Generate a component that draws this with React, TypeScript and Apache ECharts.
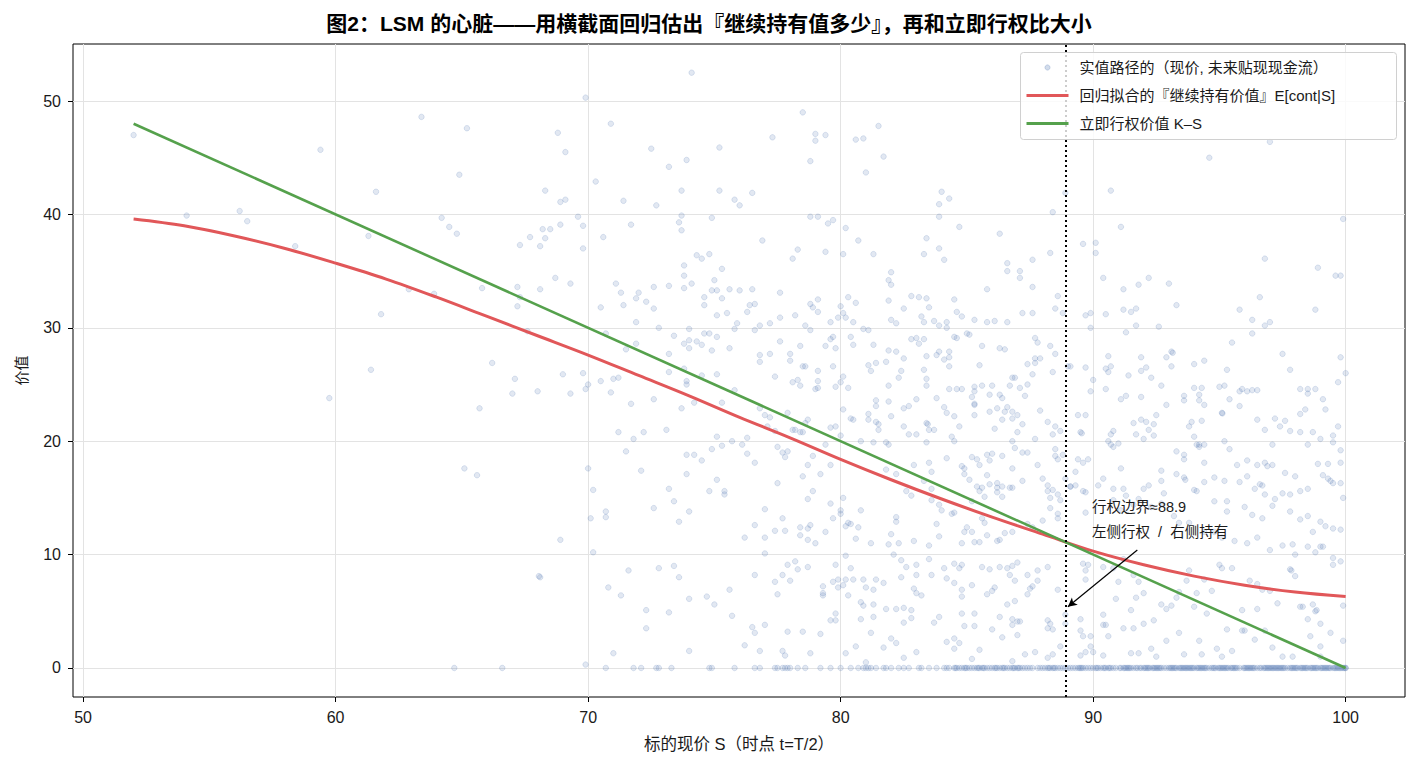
import React, { useEffect, useRef } from "react";
import * as echarts from "echarts";

const FONT = "'Liberation Sans', 'Noto Sans CJK SC', sans-serif";

const titleText = "图2：LSM 的心脏——用横截面回归估出『继续持有值多少』，再和立即行权比大小";
const xAxisName = "标的现价 S（时点 t=T/2）";
const yAxisName = "价值";
const legendNames = ["实值路径的（现价, 未来贴现现金流）", "回归拟合的『继续持有价值』E[cont|S]", "立即行权价值 K–S"];
const annotationText = "行权边界≈88.9\n左侧行权  /  右侧持有";

const xTicks = [50, 60, 70, 80, 90, 100];
const yTicks = [0, 10, 20, 30, 40, 50];

const boundaryS = 88.9;
const arrowFrom = [91.75, 10.4];
const arrowTo = [89.0, 5.4];

// regression fit E[cont|S]
const fitX = [52, 54, 56, 58, 60, 62, 64, 66, 68, 70, 72, 74, 76, 78, 80, 82, 84, 86, 88, 90, 92, 94, 96, 98, 100];
const fitY = [39.6, 39.0, 38.1, 37.0, 35.7, 34.3, 32.7, 31.0, 29.3, 27.6, 25.8, 24.0, 22.1, 20.3, 18.4, 16.6, 14.9, 13.3, 11.8, 10.3, 9.1, 8.1, 7.3, 6.7, 6.3];

// immediate exercise K - S
const exerciseX = [52, 100];
const exerciseY = [48, 0];

// in-the-money paths (S, discounted future cash flow)
const pathsLeft = [
  [52.0, 47.0], [54.1, 39.9], [56.2, 40.3], [56.5, 39.4], [58.4, 37.2], [59.4, 45.7], [59.75, 23.8],
];
const pathsA = [
  [61.6, 42.0], [63.4, 48.6], [65.2, 47.6], [64.9, 43.5], [64.2, 39.7], [64.5, 38.9], [64.8, 38.3], [61.3, 38.1],
  [62.9, 33.4], [63.9, 33.0], [61.8, 31.2], [65.8, 33.5], [61.4, 26.3], [66.2, 26.9], [65.7, 22.9], [65.1, 17.6],
  [65.6, 17.0], [68.1, 8.0], [68.05, 8.1], [68.9, 11.3], [67.1, 25.5], [67.0, 24.2], [68.0, 24.4], [67.2, 33.6],
  [67.3, 32.7], [67.2, 31.9], [67.3, 37.3], [67.7, 38.0], [68.1, 37.2], [68.2, 38.7], [68.5, 38.7], [68.3, 37.9],
  [68.9, 39.1], [68.3, 42.1], [68.9, 41.1], [69.1, 41.3], [68.8, 47.2], [69.1, 45.5], [69.9, 50.3], [70.9, 48.0],
  [70.3, 42.9], [69.6, 39.8], [69.8, 39.0], [69.8, 37.0], [70.6, 38.0], [71.4, 41.2], [71.7, 39.1], [72.5, 45.8],
  [68.1, 33.4], [68.7, 34.4], [69.3, 33.9], [67.6, 29.7], [69.0, 25.9], [69.3, 24.2], [69.8, 26.0], [70.0, 25.0],
  [69.9, 24.6], [70.5, 25.3], [70.9, 24.3], [71.0, 25.5], [71.2, 25.6], [71.7, 23.3], [70.5, 31.8], [71.1, 33.9],
  [71.3, 33.1], [72.0, 33.1], [71.9, 32.6], [72.3, 32.3], [71.4, 32.0], [71.9, 30.5], [71.9, 28.6], [71.5, 28.1],
  [70.7, 29.5], [71.2, 20.8], [71.8, 20.2], [72.2, 20.8], [71.5, 19.1], [72.1, 17.4], [70.0, 17.6], [70.2, 15.7],
  [70.7, 13.8], [70.7, 13.3], [70.1, 13.2], [70.2, 10.2], [71.6, 8.6], [70.8, 7.1], [71.3, 6.4], [72.3, 5.1],
  [72.3, 3.5], [71.0, 1.3], [69.9, 0.3],
];
const pathsB = [
  [74.1, 52.5], [73.2, 44.2], [73.9, 44.8], [75.2, 45.9], [73.7, 42.1], [75.2, 42.1], [72.7, 40.8], [75.8, 41.3],
  [76.0, 40.8], [76.5, 41.9], [73.7, 39.9], [73.6, 39.3], [73.7, 38.6], [74.9, 39.7], [77.3, 46.8], [78.5, 49.0],
  [79.0, 47.1], [79.0, 46.5], [79.4, 47.0], [78.8, 44.7], [78.8, 39.8], [79.1, 39.8], [79.5, 39.2], [79.7, 39.5],
  [76.9, 37.7], [78.3, 36.9], [78.1, 36.1], [79.4, 36.7], [80.6, 46.6], [80.9, 46.7], [81.5, 47.8], [81.7, 45.1],
  [81.0, 43.7], [80.2, 38.8], [80.7, 37.7], [80.1, 36.5], [81.3, 36.5], [74.3, 36.4], [74.5, 36.1], [74.8, 36.5],
  [73.8, 35.5], [73.8, 34.6], [75.3, 35.2], [75.0, 34.2], [72.6, 33.6], [73.2, 33.7], [73.8, 33.5], [74.1, 33.9],
  [74.9, 33.3], [75.1, 33.3], [75.6, 33.4], [76.0, 33.3], [76.5, 33.4], [72.6, 31.7], [74.6, 32.7], [74.6, 32.0],
  [75.3, 32.6], [75.1, 31.1], [75.5, 31.3], [76.4, 32.0], [76.6, 32.1], [76.3, 31.4], [77.6, 33.1], [77.6, 30.9],
  [77.2, 30.4], [78.2, 31.1], [78.8, 32.1], [78.9, 31.8], [79.1, 32.5], [79.1, 31.4], [78.6, 30.2], [78.8, 29.8],
  [75.9, 30.4], [75.8, 29.9], [76.8, 30.2], [76.6, 29.8], [72.8, 30.0], [74.0, 29.9], [73.4, 29.3], [74.6, 29.5],
  [74.8, 29.5], [75.1, 29.2], [73.8, 28.6], [74.0, 28.9], [74.3, 28.8], [74.5, 28.5], [74.0, 28.2], [74.9, 28.0],
  [75.6, 28.2], [73.2, 27.7], [73.2, 26.1], [73.8, 26.4], [73.9, 25.3], [73.9, 25.0], [74.5, 25.8], [75.1, 25.9],
  [75.8, 24.5], [73.7, 22.9], [72.6, 23.7], [74.2, 23.4], [75.3, 23.4], [76.8, 27.6], [76.8, 27.0], [77.2, 27.7],
  [77.6, 28.8], [77.4, 25.7], [78.0, 27.7], [78.0, 27.1], [78.4, 28.4], [78.5, 26.6], [78.6, 26.6], [79.1, 26.2],
  [78.1, 25.2], [78.3, 25.4], [78.4, 24.9], [79.1, 25.3], [79.1, 24.7], [79.0, 24.6], [79.4, 28.4], [79.6, 29.0],
  [79.7, 29.2], [79.8, 28.2], [79.6, 30.5], [80.0, 31.9], [80.1, 31.3], [79.9, 30.9], [80.2, 30.9], [80.5, 30.5],
  [80.3, 32.7], [80.6, 32.2], [79.7, 26.6], [79.8, 24.8], [80.0, 25.2], [80.1, 25.7], [80.3, 24.7], [80.4, 29.2],
  [80.5, 28.5], [80.9, 29.9], [81.1, 29.8], [81.3, 28.5], [81.1, 26.7], [81.2, 26.2], [81.4, 26.9], [81.8, 27.0],
  [81.9, 28.0], [81.9, 24.9], [81.4, 23.6], [81.4, 23.1], [80.1, 22.8], [80.4, 22.0], [80.5, 21.9], [81.1, 22.4],
  [81.1, 21.9], [81.4, 21.7], [81.5, 21.5], [81.5, 21.0], [81.3, 19.9], [81.8, 19.9], [81.9, 19.7], [80.8, 20.0],
  [79.8, 21.3], [79.6, 21.2], [80.0, 20.5], [79.4, 19.7], [79.6, 17.9], [79.2, 17.1], [78.9, 18.7], [78.6, 21.6],
  [78.7, 21.9], [78.5, 20.8], [78.4, 20.8], [78.2, 21.0], [78.1, 21.0], [77.9, 22.5], [77.4, 20.9], [77.1, 21.3],
  [77.0, 22.3], [76.8, 22.9], [77.2, 22.1], [77.5, 19.5], [77.7, 19.0], [77.8, 18.6], [77.9, 19.1], [78.7, 17.9],
  [78.5, 16.9], [78.7, 14.9], [78.9, 15.6], [77.5, 16.3], [77.0, 14.0], [77.7, 13.2], [77.4, 12.1], [77.8, 12.1],
  [78.4, 12.4], [78.4, 11.7], [78.7, 12.3], [78.8, 12.6], [78.7, 11.3], [79.0, 11.0], [79.4, 12.0], [79.6, 14.5],
  [79.7, 13.2], [80.0, 13.9], [80.0, 13.6], [80.1, 15.0], [80.2, 12.5], [80.3, 12.8], [80.4, 12.7], [80.7, 12.4],
  [80.6, 11.4], [80.8, 13.9], [81.2, 11.0], [81.9, 10.9], [76.2, 11.5], [76.6, 12.6], [77.0, 11.5], [77.0, 10.1],
  [76.3, 20.3], [76.1, 19.7], [76.3, 18.9], [76.6, 18.1], [75.7, 20.0], [75.3, 19.6], [75.1, 20.4], [74.9, 19.3],
  [74.5, 18.3], [74.2, 18.8], [73.9, 18.8], [73.9, 17.1], [75.1, 16.6], [74.8, 15.6], [75.4, 15.6], [75.4, 15.3],
  [73.2, 15.8], [73.4, 14.7], [72.6, 14.1], [74.0, 13.8], [73.6, 12.9], [73.1, 21.0], [72.8, 8.8], [73.4, 9.0],
  [73.6, 8.0], [73.2, 4.9], [74.0, 6.1], [74.7, 6.3], [75.0, 5.6], [75.6, 6.9], [75.7, 4.6], [74.0, 1.5],
  [76.2, 2.0], [76.5, 3.6], [76.6, 3.1], [77.0, 3.8], [76.6, 8.2], [76.8, 1.5], [77.4, 7.6], [77.5, 6.5],
  [77.7, 8.2], [77.9, 9.1], [78.2, 9.4], [78.3, 8.7], [78.7, 8.9], [78.0, 7.7], [77.7, 1.5], [77.8, 1.1],
  [77.9, 3.2], [78.5, 3.2], [78.8, 1.3], [79.2, 3.0], [79.3, 7.2], [79.3, 6.6], [79.3, 6.4], [79.6, 4.2],
  [79.7, 7.6], [79.8, 9.1], [79.8, 4.2], [79.8, 4.8], [79.9, 7.1], [79.9, 7.8], [80.1, 7.3], [80.2, 7.8],
  [80.2, 9.9], [80.4, 8.8], [80.3, 6.4], [80.5, 7.8], [80.2, 1.3], [80.6, 1.9], [80.8, 4.3], [80.8, 5.8],
  [80.9, 5.5], [80.9, 7.8], [81.0, 7.1], [81.3, 6.9], [81.3, 4.5], [81.2, 3.1], [81.3, 5.6], [81.4, 7.8],
  [81.7, 7.5], [81.8, 5.2], [81.7, 1.8], [81.0, 0.5],
];
const pathsC = [
  [84.0, 42.0], [84.3, 41.4], [83.9, 40.9], [83.9, 39.8], [84.7, 38.9], [83.4, 37.9], [83.9, 37.0], [84.1, 36.0],
  [83.3, 36.5], [86.3, 38.3], [88.4, 40.2], [88.9, 41.9], [90.7, 42.1], [89.6, 37.4], [90.1, 37.5],
  [90.1, 36.6], [88.3, 36.6], [87.6, 36.0], [86.6, 35.7], [86.6, 35.0], [87.1, 35.0], [87.1, 34.4], [87.6, 33.6],
  [90.4, 34.4], [82.0, 34.9], [81.9, 34.2], [82.0, 33.8], [85.8, 33.4], [82.8, 32.8], [83.1, 32.7], [83.4, 32.6],
  [84.5, 32.5], [83.5, 31.8], [82.5, 31.7], [81.9, 32.4], [84.6, 31.4], [84.8, 31.0], [85.3, 30.7], [85.8, 30.5],
  [86.1, 30.6], [86.6, 30.5], [87.2, 31.3], [87.6, 31.3], [88.5, 31.7], [88.8, 31.3], [88.6, 32.8], [89.7, 31.1],
  [89.9, 31.3], [89.9, 30.0], [90.5, 31.2], [82.0, 30.7], [82.2, 30.4], [83.2, 31.0], [83.3, 30.5],
  [83.7, 30.6], [83.9, 30.2], [84.2, 30.5], [84.2, 30.0], [82.2, 27.9], [82.8, 29.0], [83.0, 29.1],
  [83.1, 28.6], [83.3, 29.0], [82.5, 27.3], [82.3, 25.6], [82.4, 26.2], [83.4, 27.5], [83.3, 26.3],
  [83.4, 25.5], [83.4, 24.9], [83.8, 27.6], [83.9, 27.9], [84.1, 27.2], [84.3, 27.4], [84.3, 27.9], [84.3, 26.6],
  [84.5, 29.2], [84.6, 29.1], [85.0, 29.5], [85.1, 29.4], [85.6, 28.4], [85.5, 26.7], [86.3, 28.2], [86.5, 28.1],
  [87.7, 29.1], [87.8, 28.7], [87.7, 27.3], [87.9, 27.3], [87.7, 26.9], [87.4, 26.8], [87.6, 25.9], [88.3, 28.4],
  [88.5, 27.7], [88.4, 26.1], [89.0, 26.6], [89.1, 26.6], [89.7, 26.5], [90.5, 26.4], [90.6, 26.1], [90.7, 26.6],
  [90.6, 27.5], [90.0, 25.4], [89.9, 24.4], [90.5, 24.6], [84.3, 24.6], [84.6, 24.6], [84.8, 24.6],
  [85.3, 24.8], [85.3, 24.4], [85.2, 23.9], [85.3, 23.3], [85.6, 24.9], [86.0, 24.9], [86.3, 24.1], [86.4, 23.8],
  [85.9, 24.1], [86.7, 24.9], [86.8, 25.6], [86.9, 25.6], [87.1, 24.7], [87.4, 25.0], [87.3, 24.0], [81.9, 23.5],
  [82.5, 22.9], [82.7, 23.1], [83.0, 23.7], [82.0, 22.2], [82.5, 21.3], [82.7, 20.6], [83.0, 20.6], [83.4, 21.6],
  [83.45, 21.5], [83.5, 21.0], [83.7, 21.0], [83.4, 19.9], [83.8, 23.8], [84.1, 23.0], [84.2, 22.5], [84.5, 22.2],
  [84.7, 21.3], [84.4, 20.4], [84.5, 20.0], [85.3, 22.3], [85.3, 23.2], [85.9, 22.6], [86.2, 22.9], [86.5, 22.6],
  [86.6, 23.0], [86.8, 22.6], [87.0, 22.3], [86.4, 21.9], [86.8, 22.0], [86.1, 21.1], [87.2, 21.5], [87.9, 22.7],
  [88.2, 21.7], [88.5, 21.3], [88.7, 20.9], [88.4, 20.6], [87.7, 20.2], [87.0, 20.8], [86.8, 20.0], [86.9, 19.4],
  [87.2, 19.0], [87.4, 19.0], [89.4, 22.3], [89.7, 22.3], [89.5, 20.8], [89.55, 20.7], [90.6, 20.0], [90.7, 20.6],
  [90.8, 20.9], [90.7, 19.7], [90.8, 19.5], [91.0, 19.8], [88.5, 19.3], [88.5, 18.7], [88.6, 18.4], [88.8, 18.8],
  [89.4, 18.4], [89.6, 18.1], [89.8, 18.4], [85.2, 18.6], [85.4, 18.4], [85.5, 17.9], [85.8, 18.8], [86.0, 18.9],
  [85.9, 18.3], [85.8, 17.0], [86.4, 18.7], [84.8, 17.8], [84.9, 17.6], [84.2, 18.5], [83.5, 18.1], [82.9, 17.9],
  [82.2, 17.1], [81.8, 17.5], [82.6, 15.6], [82.8, 15.2], [83.3, 16.5], [83.6, 17.3], [83.6, 15.8], [83.6, 14.8],
  [83.9, 14.4], [84.0, 13.9], [83.8, 12.7], [84.5, 13.7], [84.9, 17.1], [85.1, 16.6], [85.2, 14.7], [85.4, 16.0],
  [85.5, 15.6], [85.6, 15.9], [85.7, 15.1], [85.7, 12.8], [85.6, 13.2], [85.9, 16.2], [86.2, 16.3], [86.2, 15.9],
  [86.4, 16.0], [86.4, 15.1], [86.7, 15.9], [86.8, 15.9], [86.8, 17.6], [86.2, 15.5], [87.2, 16.5], [87.8, 17.9],
  [88.0, 16.7], [88.2, 16.1], [88.2, 15.6], [88.3, 15.0], [88.4, 15.7], [88.6, 15.3], [88.7, 14.8], [88.9, 16.7],
  [89.1, 16.0], [89.3, 16.1], [89.6, 15.6], [89.7, 15.5], [88.3, 14.1], [88.6, 13.6], [88.6, 13.2], [88.0, 13.0],
  [87.6, 12.4], [87.4, 12.7], [86.8, 12.0], [86.5, 11.9], [86.3, 11.3], [86.2, 11.2], [85.8, 11.7], [85.5, 11.1],
  [85.3, 11.1], [85.2, 12.0], [85.0, 12.4], [84.9, 12.0], [84.8, 11.0], [84.4, 13.6], [83.9, 11.6], [83.5, 10.8],
  [82.9, 11.2], [82.3, 11.0], [82.0, 11.8], [82.1, 10.0], [82.2, 13.3], [82.2, 12.9], [82.4, 9.5], [82.6, 8.9],
  [83.0, 9.1], [83.0, 8.2], [82.4, 8.0], [82.9, 7.0], [83.0, 6.6], [83.2, 6.4], [83.5, 9.6],
  [83.6, 8.2], [84.1, 8.8], [84.2, 7.9], [84.5, 9.2], [84.7, 8.8], [84.8, 9.1], [84.5, 7.5], [84.8, 6.9],
  [84.8, 6.3], [85.2, 7.3], [85.6, 8.9], [85.9, 8.7], [86.1, 7.1], [86.0, 6.8], [85.8, 6.5], [86.3, 8.9],
  [86.6, 8.8], [86.8, 9.0], [87.0, 9.3], [86.7, 8.2], [86.9, 7.7], [86.6, 5.6], [86.9, 5.9], [87.4, 8.2],
  [87.4, 6.5], [87.5, 7.0], [87.6, 7.2], [87.8, 8.6], [87.8, 7.7], [88.2, 8.9], [88.6, 6.9], [88.9, 4.7],
  [88.9, 3.9], [88.2, 4.2], [88.3, 3.9], [88.4, 3.4], [88.2, 3.5], [88.7, 1.9], [88.4, 1.2], [88.2, 0.9],
  [82.2, 5.2], [82.5, 5.3], [82.8, 5.1], [82.8, 4.4], [82.5, 4.0], [82.0, 2.6], [82.2, 2.2], [82.5, 0.9],
  [83.0, 1.4], [83.7, 4.0], [83.9, 4.5], [84.2, 2.3], [84.5, 2.6], [84.7, 2.2], [84.5, 1.7], [84.8, 4.8],
  [84.9, 3.7], [85.3, 4.8], [85.3, 3.7], [85.2, 0.8], [85.5, 1.6], [86.0, 3.4], [86.4, 2.7], [86.3, 4.5],
  [86.8, 4.3], [86.8, 3.8], [87.0, 4.1], [87.1, 4.1], [86.8, 0.6], [87.3, 1.2], [87.7, 1.4], [87.0, 2.9],
  [89.5, 4.3], [89.5, 3.3], [89.6, 2.8], [89.9, 2.8], [90.4, 4.7], [90.4, 3.8], [90.5, 3.8], [90.6, 2.8],
  [90.9, 6.1], [91.0, 7.6], [89.7, 1.4], [89.9, 1.9], [90.0, 1.4], [89.5, 1.1], [90.4, 1.1], [89.6, 9.2],
  [89.7, 8.6], [89.8, 9.1], [89.7, 7.8], [90.4, 8.9], [90.8, 8.8], [89.1, 16.0], [89.3, 17.3], [90.2, 16.1],
  [90.4, 16.7], [90.8, 15.8], [91.2, 15.8], [90.8, 14.8], [89.7, 13.7], [91.1, 13.9], [91.3, 15.2],
];
const pathsD = [
  [97.0, 46.4], [94.6, 45.0], [99.9, 39.6], [91.1, 38.9], [96.8, 36.1], [98.9, 35.3], [99.6, 34.6], [99.8, 34.6],
  [92.2, 34.4], [91.8, 33.8], [93.0, 33.9], [91.2, 33.4], [93.3, 32.0], [96.6, 32.7], [95.8, 31.6], [98.8, 31.6],
  [96.3, 30.7], [96.8, 30.2], [97.0, 30.5], [91.2, 31.6], [91.5, 31.4], [91.7, 31.7], [91.7, 30.2], [92.6, 30.1],
  [91.3, 29.6], [96.3, 29.5], [95.5, 28.7], [97.5, 27.7], [93.1, 27.9], [93.15, 27.8], [92.9, 27.4], [91.9, 27.4],
  [92.1, 26.5], [91.9, 26.2], [93.1, 26.6], [94.4, 27.1], [94.0, 26.8], [95.3, 26.3], [97.8, 26.3], [99.8, 27.4],
  [100.0, 26.0], [91.4, 25.8], [92.3, 25.6], [92.7, 24.9], [94.0, 24.7], [94.3, 24.7], [95.0, 24.8], [95.2, 24.9],
  [95.8, 24.4], [95.9, 24.6], [96.1, 24.4], [96.3, 24.5], [96.5, 24.5], [95.4, 23.7], [95.8, 23.1], [91.3, 24.0],
  [91.1, 23.7], [91.9, 23.9], [92.5, 22.3], [93.6, 24.0], [93.6, 23.6], [94.2, 23.6], [94.2, 24.1], [94.4, 23.2],
  [92.9, 23.2], [95.1, 22.5], [95.12, 22.45], [98.2, 24.6], [98.5, 24.6], [98.5, 24.2], [98.8, 24.6], [99.1, 23.7],
  [99.2, 22.8], [99.7, 25.2], [98.4, 22.8], [98.2, 22.4], [91.6, 21.6], [91.9, 21.9], [92.1, 21.7], [92.2, 21.0],
  [92.4, 21.5], [92.4, 20.5], [91.7, 20.6], [92.0, 20.2], [93.9, 21.7], [93.8, 21.3], [94.3, 21.8], [94.0, 20.4],
  [94.1, 19.7], [94.2, 19.7], [94.4, 19.7], [94.2, 19.5], [95.2, 20.0], [95.4, 19.3], [96.5, 21.9], [96.8, 21.0],
  [97.2, 22.0], [97.4, 21.3], [97.6, 21.8], [97.8, 20.9], [97.1, 19.7], [98.2, 20.8], [98.5, 19.7], [98.7, 20.8],
  [99.0, 20.2], [99.5, 20.5], [99.5, 19.9], [99.7, 21.3], [99.8, 19.2], [93.3, 19.1], [93.6, 18.8], [93.6, 18.4],
  [94.4, 18.1], [95.7, 17.9], [96.1, 18.3], [96.5, 17.9], [96.8, 18.1], [96.9, 17.8], [97.1, 17.9], [97.6, 17.2],
  [98.0, 16.9], [98.9, 18.0], [99.3, 18.0], [99.8, 18.1], [99.1, 17.0], [99.3, 16.7], [91.1, 17.6], [92.7, 17.4],
  [93.3, 17.1], [93.6, 16.8], [94.1, 15.6], [94.4, 16.4], [94.8, 16.8], [95.2, 16.5], [95.8, 16.4], [96.1, 16.9],
  [96.4, 15.8], [96.6, 16.2], [96.7, 16.1], [96.8, 15.3], [97.2, 14.9], [97.1, 14.3], [97.5, 15.4], [97.8, 15.3],
  [98.2, 15.6], [98.5, 15.8], [99.4, 16.5], [99.5, 16.3], [99.8, 16.3], [99.9, 15.0], [92.0, 15.8], [92.2, 16.1],
  [92.7, 16.5], [92.8, 15.4], [93.65, 16.6], [94.0, 15.7], [94.8, 14.7], [95.3, 14.7], [95.3, 13.8], [96.0, 14.2],
  [96.3, 13.5], [96.7, 13.2], [97.8, 13.8], [98.2, 13.1], [98.5, 13.4], [99.0, 12.9], [99.2, 12.5], [99.5, 12.3],
  [99.8, 12.2], [99.0, 10.7], [99.1, 10.7], [99.5, 9.7], [99.5, 9.1], [99.8, 9.4], [98.7, 12.0], [91.8, 14.9],
  [91.6, 14.4], [92.3, 14.2], [92.7, 14.5], [93.2, 13.4], [93.4, 12.8], [93.8, 12.8], [94.4, 12.0], [94.8, 12.0],
  [95.1, 11.5], [95.6, 11.2], [96.1, 11.0], [96.5, 11.5], [97.0, 10.4], [97.5, 10.8], [97.9, 10.9], [98.0, 10.0],
  [98.5, 10.7], [98.8, 10.2], [91.2, 9.6], [91.6, 8.2], [91.8, 7.6], [92.0, 6.6], [91.7, 6.2], [91.5, 5.1],
  [91.2, 3.5], [91.6, 3.5], [92.0, 3.9], [92.4, 4.2], [92.7, 5.6], [92.9, 5.2], [93.1, 5.5], [93.4, 6.7],
  [93.3, 6.2], [93.8, 8.6], [93.7, 7.7], [94.1, 6.6], [94.0, 5.4], [94.4, 7.8], [94.5, 4.8], [94.7, 6.8],
  [95.0, 9.1], [95.1, 8.8], [95.5, 8.8], [95.3, 3.4], [95.9, 5.1], [96.0, 3.3], [96.5, 5.2], [96.8, 3.3],
  [97.0, 6.8], [97.3, 5.7], [97.8, 8.7], [97.85, 8.6], [98.0, 8.1], [98.2, 5.4], [98.3, 5.4], [98.7, 5.6],
  [98.8, 5.0], [98.85, 5.1], [98.5, 4.3], [99.0, 3.9], [99.4, 3.1], [99.9, 5.5], [99.9, 2.4], [98.6, 2.8],
  [99.0, 1.9], [91.5, 1.3], [91.8, 1.3], [92.3, 1.7], [92.5, 1.0], [93.6, 1.2], [94.2, 2.4], [94.3, 1.2],
  [94.9, 1.7], [95.1, 1.0], [95.5, 1.5], [96.4, 2.5], [97.1, 1.8], [97.5, 1.0], [97.9, 1.0], [99.0, 1.0],
  [92.9, 2.4], [93.4, 3.1], [96.2, 7.7], [96.5, 7.4], [96.7, 6.9], [95.9, 3.3],
];
// paths whose continuation value is zero (S values)
const zeroPathsS = [
  64.7, 66.6, 70.7, 71.8, 72.1, 72.7, 72.8, 73.3, 74.8, 74.9, 75.8, 76.6, 76.8, 77.4, 77.5, 77.7, 77.8, 77.9,
  78.0, 78.6, 79.2, 80.0, 80.4, 80.7, 81.0, 81.1, 81.2, 81.4, 81.7, 81.8, 82.0, 82.3, 82.7, 83.1, 83.2, 83.5,
  84.1, 84.3, 84.5, 84.55, 84.7, 84.9, 85.0, 85.1, 85.2, 85.4, 85.5, 85.6, 85.7, 85.9, 86.1, 86.2, 86.3, 86.5,
  86.7, 86.8, 86.9, 87.1, 87.3, 87.6, 87.9, 88.1, 88.3, 88.4, 88.5, 88.7, 89.1, 89.2, 89.4, 89.5, 89.6, 89.8,
  90.1, 90.2, 90.3, 90.5, 90.6, 90.9, 91.1, 91.2, 91.35, 91.5, 91.7, 91.85, 92.0, 92.2, 92.35, 92.5, 92.7,
  92.9, 93.05, 93.2, 93.4, 93.55, 93.7, 93.9, 94.1, 94.25, 94.4, 94.6, 94.8, 94.95, 95.1, 95.3, 95.45, 95.6,
  95.8, 95.95, 96.1, 96.3, 96.5, 96.65, 96.8, 97.0, 97.15, 97.3, 97.5, 97.7, 97.85, 98.0, 98.2, 98.35, 98.5,
  98.7, 98.85, 99.0, 99.2, 99.35, 99.5, 99.7, 99.85, 100.0,
];
const zeroPathsS2 = [
  85.3, 86.0, 86.4, 87.0, 87.5, 88.0, 88.6, 89.0, 89.7, 90.0, 90.4, 90.8, 91.4, 91.9, 92.4, 93.0, 93.6, 94.0,
  94.5, 95.0, 95.5, 96.0, 96.4, 96.9, 97.4, 97.9, 98.4, 98.9, 99.4, 99.9, 92.8, 93.3, 94.3, 95.2, 96.2, 97.2,
  98.1, 99.1, 84.2, 84.8, 85.8, 86.6, 87.2, 87.8, 88.2, 88.8, 89.3, 89.9, 90.7, 91.05, 91.6, 92.1, 92.6, 93.1,
  93.5, 93.8, 94.2, 94.7, 95.15, 95.7, 96.15, 96.6, 97.05, 97.6, 98.05, 98.6, 99.05, 99.6, 99.95, 91.3, 92.45,
  93.65, 94.85, 96.05, 97.25, 98.45, 99.65, 95.35, 97.45, 99.25, 94.15, 96.85, 98.75, 92.25, 93.95,
];
const zeroPathsS3 = [
  84.6, 85.45, 86.15, 86.85, 87.4, 88.25, 88.9, 89.45, 90.15, 90.65, 91.25, 91.75, 92.15, 92.65, 93.15, 93.45,
  93.85, 94.35, 94.75, 95.25, 95.65, 96.25, 96.75, 97.1, 97.55, 97.95, 98.3, 98.65, 99.15, 99.55, 99.8, 100.0,
  91.45, 92.05, 92.55, 93.25, 93.75, 94.45, 95.05, 95.55, 96.35, 96.95, 97.35, 97.8, 98.25, 98.8, 99.3, 99.75,
  87.05, 88.45, 89.55, 90.45, 86.45, 85.65, 84.95, 83.8, 82.5, 80.9, 79.6, 78.3,
];

export default function App() {
  const ref = useRef<HTMLDivElement>(null);
  useEffect(() => {
    document.body.style.margin = "0";
    if (!ref.current) return;
    const chart = echarts.init(ref.current, null, { renderer: "svg" });

    const scatterData = [
      ...pathsLeft, ...pathsA, ...pathsB, ...pathsC, ...pathsD,
      ...zeroPathsS.map((s) => [s, 0]),
      ...zeroPathsS2.map((s) => [s, 0]),
      ...zeroPathsS3.map((s) => [s, 0]),
    ];
    const fitData = fitX.map((x, i) => [x, fitY[i]]);
    const exerciseData = exerciseX.map((x, i) => [x, exerciseY[i]]);

    const gridLineData = [
      ...xTicks.map((v) => ({ xAxis: v })),
      ...yTicks.map((v) => ({ yAxis: v })),
    ];

    const textStyle = { fontFamily: FONT, color: "#1a1a1a" };
    const LZ = 100;

    chart.setOption({
      animation: false,
      backgroundColor: "#ffffff",
      title: {
        text: titleText,
        left: "center",
        top: 8,
        textStyle: { fontFamily: FONT, fontSize: 21, fontWeight: "bold", color: "#000" },
      },
      grid: {
        left: 73,
        right: 13,
        top: 44,
        bottom: 69,
        show: true,
        borderColor: "#000",
        borderWidth: 1,
        backgroundColor: "transparent",
      },
      xAxis: {
        type: "value",
        min: 49.6,
        max: 102.35,
        name: xAxisName,
        nameLocation: "middle",
        nameGap: 39,
        nameTextStyle: { ...textStyle, fontSize: 16.5 },
        axisLine: { show: false, onZero: false },
        splitLine: { show: false },
        axisTick: { show: true, length: 5, customValues: xTicks, lineStyle: { color: "#000", width: 1 } },
        axisLabel: { customValues: xTicks, margin: 12, fontSize: 16, ...textStyle },
      },
      yAxis: {
        type: "value",
        min: -2.56,
        max: 55.03,
        name: yAxisName,
        nameLocation: "middle",
        nameGap: 44,
        nameRotate: 90,
        nameTextStyle: { ...textStyle, fontSize: 15 },
        axisLine: { show: false, onZero: false },
        splitLine: { show: false },
        axisTick: { show: true, length: 5, customValues: yTicks, lineStyle: { color: "#000", width: 1 } },
        axisLabel: { customValues: yTicks, margin: 12, fontSize: 16, ...textStyle },
      },
      series: [
        {
          type: "line",
          name: "grid",
          data: [],
          silent: true,
          z: 0,
          markLine: {
            silent: true,
            symbol: ["none", "none"],
            label: { show: false },
            lineStyle: { color: "#e3e3e3", width: 1, type: "solid" },
            data: gridLineData,
            z: 0,
          },
        },
        {
          type: "scatter",
          name: legendNames[0],
          data: scatterData,
          symbolSize: 5.5,
          itemStyle: {
            color: "rgba(76,114,176,0.2)",
            borderColor: "rgba(76,114,176,0.28)",
            borderWidth: 0.8,
          },
          z: 2,
        },
        {
          type: "line",
          name: legendNames[1],
          data: fitData,
          smooth: 0.35,
          showSymbol: false,
          lineStyle: { color: "#e15759", width: 3 },
          z: 3,
        },
        {
          type: "line",
          name: legendNames[2],
          data: exerciseData,
          showSymbol: false,
          lineStyle: { color: "#55a14c", width: 2.6 },
          z: 4,
        },
        {
          type: "line",
          name: "boundary",
          data: [],
          z: 5,
          markLine: {
            silent: true,
            label: { show: false },
            symbol: ["none", "none"],
            lineStyle: { color: "#000", width: 2, type: [2, 3] },
            data: [{ xAxis: boundaryS }],
          },
        },
        {
          type: "line",
          name: "arrow",
          data: [],
          z: 6,
          markLine: {
            silent: true,
            label: { show: false },
            symbol: ["none", "arrow"],
            symbolSize: [7, 9],
            lineStyle: { color: "#000", width: 1.2, type: "solid" },
            data: [[{ coord: arrowFrom }, { coord: arrowTo }]],
          },
        },
      ],
      graphic: [
        {
          type: "text",
          left: 1092,
          top: 494,
          z: 10,
          style: {
            text: annotationText,
            font: `14.5px ${FONT}`,
            fill: "#1a1a1a",
            lineHeight: 25,
          },
        },
        {
          type: "group",
          left: 1020,
          top: 52,
          z: LZ,
          children: [
            {
              type: "rect",
              z: LZ,
              shape: { x: 0, y: 0, width: 376, height: 87, r: 3 },
              style: { fill: "rgba(255,255,255,0.8)", stroke: "#d0d0d0", lineWidth: 1 },
            },
            {
              type: "circle",
              z: LZ + 1,
              shape: { cx: 27, cy: 15, r: 2.6 },
              style: { fill: "rgba(76,114,176,0.25)", stroke: "rgba(76,114,176,0.3)", lineWidth: 0.8 },
            },
            {
              type: "text",
              z: LZ + 1,
              x: 59,
              y: 15,
              style: { text: legendNames[0], font: `15px ${FONT}`, fill: "#1a1a1a", verticalAlign: "middle" },
            },
            {
              type: "line",
              z: LZ + 1,
              shape: { x1: 6, y1: 43, x2: 48, y2: 43 },
              style: { stroke: "#e15759", lineWidth: 3 },
            },
            {
              type: "text",
              z: LZ + 1,
              x: 59,
              y: 43,
              style: { text: legendNames[1], font: `15px ${FONT}`, fill: "#1a1a1a", verticalAlign: "middle" },
            },
            {
              type: "line",
              z: LZ + 1,
              shape: { x1: 6, y1: 71, x2: 48, y2: 71 },
              style: { stroke: "#55a14c", lineWidth: 3 },
            },
            {
              type: "text",
              z: LZ + 1,
              x: 59,
              y: 71,
              style: { text: legendNames[2], font: `15px ${FONT}`, fill: "#1a1a1a", verticalAlign: "middle" },
            },
          ],
        },
      ],
    });
    return () => chart.dispose();
  }, []);
  return <div ref={ref} style={{ width: 1418, height: 766 }} />;
}
